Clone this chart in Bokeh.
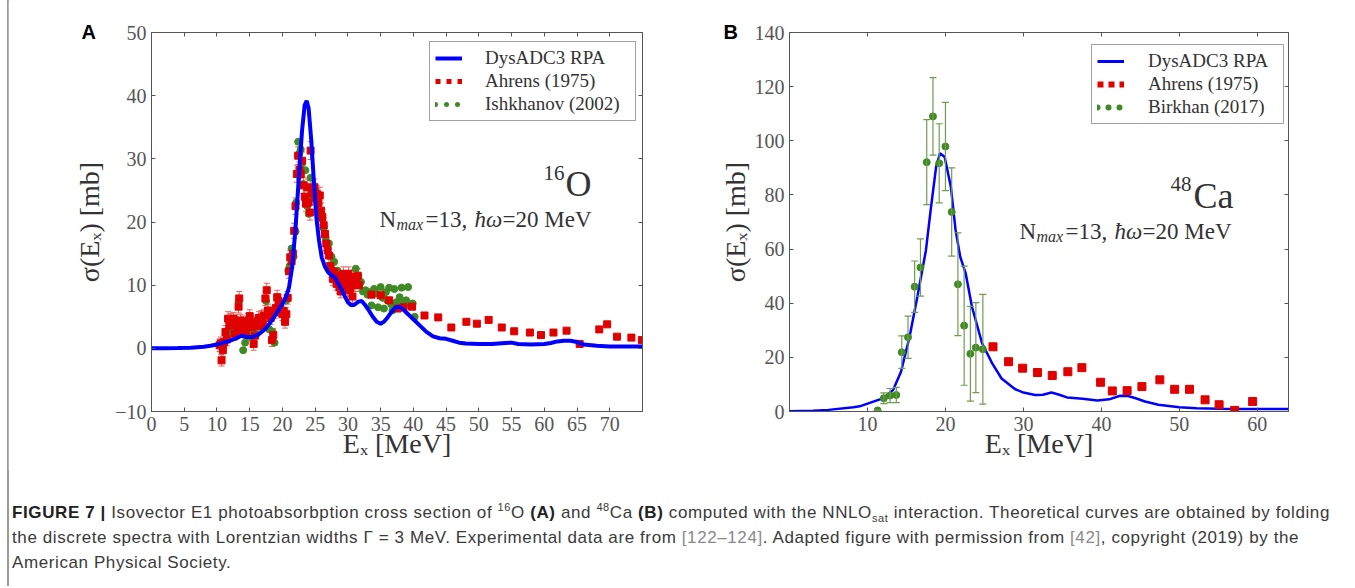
import numpy as np
from bokeh.plotting import figure
from bokeh.models import (ColumnDataSource, Range1d, LinearAxis, FixedTicker, Label, Title,
                          Legend, LegendItem, Whisker, TeeHead, Div, CustomJSTickFormatter)
from bokeh.layouts import row, column
from bokeh.embed import file_html
from bokeh.resources import INLINE

# ---------------- Panel A: 16O ----------------
o16_curve_e = [0, 2, 4, 6, 8, 9, 10, 11, 12, 13, 13.7, 14.5, 15.5, 16.5, 17.5, 18.5, 19.5,
               20.5, 21, 21.5, 22, 22.5, 23, 23.4, 23.7, 24.0, 24.4, 24.8, 25.2, 25.6, 26.0,
               26.5, 27, 27.5, 28, 28.5, 29, 29.5, 30, 30.5, 31, 31.6, 32.1, 32.6, 33.2, 33.8,
               34.4, 35.0, 35.5, 36.0, 36.6, 37.2, 37.8, 38.4, 39.0, 39.6, 40.2, 41, 42, 43,
               44, 45, 46, 47, 48, 50, 52, 54, 55, 56, 58, 60, 61, 62, 63, 64, 65, 66, 68,
               70, 72, 75]
o16_curve_s = [0, 0.02, 0.05, 0.1, 0.25, 0.4, 0.6, 0.9, 1.2, 1.6, 2.0, 1.8, 1.8, 2.3, 3.2,
               4.6, 6.2, 8.0, 9.6, 13.0, 19.0, 27.0, 34.5, 38.5, 39.2, 38.0, 33.0, 26.5, 20.5,
               17.0, 14.4, 12.9, 12.0, 11.6, 11.2, 10.3, 9.4, 8.3, 7.3, 6.8, 6.9, 7.4, 7.5,
               6.9, 6.0, 5.0, 4.2, 3.9, 4.2, 4.8, 5.7, 6.4, 6.6, 6.2, 5.6, 5.0, 4.4, 3.6, 2.6,
               1.9, 1.6, 1.5, 1.2, 0.9, 0.75, 0.7, 0.7, 0.85, 0.9, 0.7, 0.6, 0.7, 0.85, 1.1,
               1.2, 1.2, 1.0, 0.6, 0.4, 0.3, 0.3, 0.3]

o16_ahrens_e = [10.4, 10.6, 10.7, 10.9, 11.1, 11.3, 11.5, 11.7, 11.9, 12.1, 12.3, 12.5, 12.7,
                12.9, 13.1, 13.3, 13.4, 13.6, 13.8, 14.0, 14.2, 14.4, 14.6, 14.8, 15.0, 15.2,
                15.4, 15.6, 15.8, 16.0, 16.2, 16.4, 16.6, 16.8, 17.0, 17.2, 17.4, 17.6, 17.8,
                18.0, 18.2, 18.4, 18.6, 18.8, 19.0, 19.2, 19.4, 19.6, 19.8, 20.0, 20.2, 20.4,
                20.6, 20.8, 21.0, 21.2, 21.4, 21.6, 21.8, 22.0, 22.2, 22.4, 22.6, 22.8, 23.0,
                23.2, 23.4, 23.6, 23.8, 24.0, 24.2, 24.3, 24.5, 24.7, 24.9, 25.1, 25.3, 25.5,
                25.7, 25.9, 26.1, 26.3, 26.5, 26.7, 26.9, 27.1, 27.3, 27.5, 27.7, 27.9, 28.1,
                28.3, 28.5, 28.7, 28.9, 29.1, 29.3, 29.5, 29.7, 29.9, 30.1, 30.3, 30.5, 30.7,
                30.9, 31.1, 31.3, 31.5, 31.7, 33.6, 35.0, 36.3, 37.6, 38.5, 39.8,
                41.7, 43.8, 45.8, 48.1, 49.7, 51.5, 53.5, 55.4, 57.8, 59.5, 61.4, 63.4, 65.4,
                68.4, 69.6, 71.1, 73.3, 74.9]
o16_ahrens_s = [0.5, 0.8, -1.9, -0.3, 1.0, 2.6, 1.4, 4.7, 3.6, 4.5, 3.9, 4.7, 2.3,
                4.2, 3.3, 6.6, 7.9, 4.4, 2.8, 4.0, 3.1, 2.6, 3.7, 4.4, 5.1, 4.1,
                3.4, 0.7, 2.0, 3.9, 4.3, 4.8, 3.5, 4.9, 3.9, 5.2, 7.9, 9.2, 6.0,
                5.3, 4.8, 1.3, 2.1, 5.7, 6.4, 8.1, 7.5, 6.5, 6.0, 5.4, 5.9, 4.2,
                5.4, 8.0, 12.2, 14.4, 13.8, 15.0, 18.6, 22.5, 27.6, 30.5, 28.2, 27.6, 29.7,
                25.8, 24.0, 22.9, 25.5, 23.1, 21.5, 31.3, 24.5, 25.0, 25.5, 23.9, 24.4, 23.0,
                24.2, 21.8, 20.8, 19.5, 18.1, 16.6, 15.5, 14.7, 13.0, 12.3, 11.0, 12.1, 11.5,
                10.2, 11.3, 9.7, 9.0, 10.5, 11.8, 10.0, 10.8, 9.2, 11.8, 9.4, 10.5, 8.2,
                11.3, 10.0, 10.8, 11.5, 10.0, 8.5, 8.4, 7.6, 6.3, 6.5, 6.6,
                5.2, 4.9, 3.3, 4.2, 3.9, 4.5, 3.3, 2.7, 2.5, 2.1, 2.5, 2.8, 0.7,
                3.0, 3.8, 1.85, 1.7, 1.3]
o16_ahrens_err = [1.0, 1.0, 0.9, 1.0, 1.0, 1.0, 1.0, 1.1, 1.0, 1.0, 1.1, 1.0, 1.0,
                  1.1, 1.0, 1.0, 1.1, 1.0, 1.0, 1.1, 1.0, 1.0, 1.0, 1.1, 1.0, 1.0,
                  1.0, 1.0, 1.0, 1.1, 1.0, 1.0, 1.0, 1.1, 1.0, 1.0, 1.1, 1.1, 1.0,
                  1.0, 1.0, 1.0, 1.0, 1.0, 1.1, 1.1, 1.0, 1.0, 1.0, 1.0, 1.0, 1.0,
                  1.0, 1.0, 1.1, 1.1, 1.1, 1.1, 1.2, 1.3, 1.3, 1.4, 1.3, 1.3, 1.4,
                  1.3, 1.3, 1.2, 1.3, 1.2, 1.2, 1.4, 1.3, 1.3, 1.3, 1.2, 1.3, 1.2,
                  1.3, 1.2, 1.2, 1.2, 1.2, 1.1, 1.1, 1.1, 1.1, 1.1, 1.1, 1.1, 1.1,
                  1.0, 1.1, 1.0, 1.0, 1.1, 1.1, 1.0, 1.1, 1.0, 1.1, 1.0, 1.1, 1.0,
                  1.1, 1.0, 1.1, 1.1, 1.0, 0.3, 0.3, 0.3, 0.3, 0.3, 0.3,
                  0.2, 0.2, 0.2, 0.2, 0.2, 0.2, 0.2, 0.2, 0.2, 0.2, 0.2, 0.2, 0.2,
                  0.2, 0.2, 0.2, 0.2, 0.2]

o16_ishkhanov_e = [11.0, 11.5, 12.0, 12.5, 13.0, 13.3, 13.6, 14.0, 14.3, 14.7, 15.0, 15.5,
                   16.0, 16.5, 17.0, 17.5, 18.0, 18.5, 18.8, 19.2, 19.6, 20.0, 20.6, 20.9,
                   21.1, 21.4, 21.7, 22.0, 22.1, 22.4, 22.6, 22.8, 23.0, 23.2, 23.5, 23.5,
                   23.8, 24.0, 24.3, 24.6, 25.0, 25.3, 25.6, 26.0, 26.3, 26.6, 27.1, 27.5,
                   27.9, 28.4, 28.8, 29.2, 29.6, 30.0, 30.4, 30.8, 31.2, 31.6, 32.0, 32.3,
                   32.7, 33.0, 33.2, 33.6, 34.0, 34.3, 34.6, 35.0, 35.3, 35.5, 35.8, 36.0,
                   36.3, 36.6, 36.8, 37.1, 37.4, 37.7, 37.9, 38.2, 38.5, 38.9, 39.2, 39.5,
                   39.9, 40.2]
o16_ishkhanov_s = [0.5, 1.5, 2.5, 3.0, 4.5, 7.3, 3.5, -0.3, 0.9, 2.5, 1.8, 3.0,
                   2.2, 3.5, 4.8, 7.5, 3.0, 2.6, 0.9, 6.5, 7.0, 6.0, 7.6, 12.3,
                   13.0, 15.8, 14.5, 18.5, 23.1, 32.7, 30.9, 31.5, 29.3, 26.0, 28.2, 23.9,
                   22.5, 21.3, 27.0, 24.0, 25.0, 23.1, 21.0, 20.5, 19.0, 17.5, 16.6, 14.5,
                   13.7, 12.3, 11.0, 10.5, 11.2, 10.2, 9.5, 11.0, 12.6, 11.5, 10.5, 9.0,
                   9.2, 8.5, 8.9, 6.8, 9.4, 8.7, 6.5, 9.7, 8.0, 6.3, 8.9, 7.6,
                   9.6, 7.0, 6.0, 9.4, 7.3, 6.8, 8.1, 9.6, 7.1, 7.6, 9.7, 6.8,
                   7.1, 5.0]

# ---------------- Panel B: 48Ca ----------------
ca48_curve_e = [0, 3, 5, 8.2, 9.0, 10.2, 11.6, 12.5, 13.3, 14.3, 15.4, 16.4, 17.5, 18.1,
                18.8, 19.3, 19.9, 20.7, 21.3, 21.9, 22.6, 23.4, 24.7, 26.0, 27.2, 28.9,
                30.0, 31.5, 32.5, 33.6, 34.5, 35.6, 37.6, 39.5, 41.0, 42.4, 43.4, 44.4, 45.6,
                47.3, 50.0, 52.2, 55.0, 57.1, 60.0, 64.0]
ca48_curve_s = [0.1, 0.3, 0.6, 1.6, 1.9, 3.1, 4.5, 6.0, 8.0, 14.7, 27.6, 42.4, 59.6, 74.3,
                90.3, 95.4, 94.0, 82.9, 67.0, 57.1, 51.0, 38.7, 25.2, 17.8, 12.2, 8.3,
                7.0, 6.1, 6.2, 7.0, 6.3, 5.2, 4.7, 4.1, 4.5, 5.8, 5.7, 4.9, 3.7,
                2.5, 1.6, 1.2, 1.0, 0.9, 0.9, 0.9]

ca48_ahrens_e = [26.1, 28.1, 29.9, 31.8, 33.7, 35.7, 37.5, 39.9, 41.4, 43.3, 45.2, 47.5,
                 49.4, 51.3, 53.3, 55.1, 57.1, 59.4]
ca48_ahrens_s = [23.9, 18.4, 16.0, 14.4, 13.3, 14.7, 16.2, 10.8, 7.6, 7.7, 9.2, 11.7,
                 8.2, 8.2, 4.3, 2.5, 0.4, 3.7]

ca48_birkhan_e = [11.3, 12.1, 12.9, 13.7, 14.4, 15.2, 16.05, 16.8, 17.6, 18.4, 19.2, 20.0,
                  20.8, 21.6, 22.4, 23.2, 23.9, 24.8]
ca48_birkhan_s = [0.4, 4.9, 5.9, 6.1, 21.9, 27.4, 46.1, 53.2, 92.1, 109.0, 91.7, 97.9,
                  73.7, 47.0, 31.7, 21.3, 23.6, 23.0]
ca48_birkhan_err = [0.0, 2.0, 2.6, 2.8, 6.0, 7.8, 9.5, 10.6, 15.7, 14.3, 14.6, 16.3,
                    16.3, 19.0, 22.0, 17.5, 16.6, 20.3]

# tick labels
a_xticks = [0, 5, 10, 15, 20, 25, 30, 35, 40, 45, 50, 55, 60, 65, 70]
a_yticks = [-10, 0, 10, 20, 30, 40, 50]
b_xticks = [10, 20, 30, 40, 50, 60]
b_yticks = [0, 20, 40, 60, 80, 100, 120, 140]

BLUE = "#0000ff"
RED = "#e00000"
GREEN = "#3f8a22"
FRAME = "#555555"
TXT = "#333333"
SERIF = "Liberation Serif"
NAN = [float("nan")]


def make_fig(width, height, bl, br, bt, bb, xr, yr, xticks, yticks, xlabel, ylabel,
             ylabel_standoff=7, overrides=None):
    p = figure(width=width, height=height, x_range=Range1d(*xr), y_range=Range1d(*yr),
               output_backend="svg", toolbar_location=None, x_axis_type=None, y_axis_type=None,
               min_border_left=bl, min_border_right=br, min_border_top=bt, min_border_bottom=bb)
    p.title = None
    p.grid.visible = False
    p.outline_line_color = FRAME
    p.outline_line_width = 1
    p.background_fill_color = "white"
    p.border_fill_color = "white"
    for place, ticks, shown in (("below", xticks, True), ("left", yticks, True),
                                ("above", xticks, False), ("right", yticks, False)):
        ax = LinearAxis(ticker=FixedTicker(ticks=ticks, minor_ticks=[]))
        ax.axis_line_color = FRAME
        ax.major_tick_line_color = FRAME
        ax.major_tick_in = 4
        ax.major_tick_out = 0
        ax.minor_tick_line_color = None
        ax.major_label_text_font = SERIF
        if shown:
            ax.major_label_text_font_size = "20px"
            ax.major_label_text_color = "#555555"
            ax.major_label_standoff = 5
            ax.axis_label_text_font = SERIF
            ax.axis_label_text_font_size = "28px"
            ax.axis_label_text_font_style = "normal"
            ax.axis_label_text_color = TXT
            if place == "left":
                ax.axis_label = ylabel
                ax.axis_label_standoff = ylabel_standoff
                if overrides:
                    ax.major_label_overrides = overrides
            else:
                ax.axis_label = xlabel
                ax.axis_label_standoff = -6
        else:
            ax.major_label_text_font_size = "1px"
            ax.major_label_text_color = None
            ax.formatter = CustomJSTickFormatter(code="return ''")
            ax.major_label_standoff = 0
        p.add_layout(ax, place)
    return p


def px2data(fr, px, py):
    x = fr["x0"] + (px - fr["l"]) / (fr["r"] - fr["l"]) * (fr["x1"] - fr["x0"])
    y = fr["y1"] - (py - fr["t"]) / (fr["b"] - fr["t"]) * (fr["y1"] - fr["y0"])
    return x, y


def txt(p, fr, px, py, text, size, font=SERIF, style="normal", angle=0.0,
        align="left", baseline="alphabetic", color=TXT):
    x, y = px2data(fr, px, py)
    p.add_layout(Label(x=x, y=y, text=text, text_font=font, text_font_size=f"{size}px",
                       text_font_style=style, angle=angle, text_align=align,
                       text_baseline=baseline, text_color=color))


def panel_letter(p, letter, offset):
    p.add_layout(Title(text=letter, align="left", offset=offset, standoff=-20,
                       text_font="Liberation Sans", text_font_size="20px",
                       text_font_style="bold", text_color="#000000"), "above")


XLABEL = "E\u2093 [MeV]"
YLABEL = "\u03c3(E\u2093) [mb]"

# ---------- Figure A ----------
frA = dict(l=151, r=642, t=32, b=411, x0=0, x1=75, y0=-10, y1=50)
pA = make_fig(662, 470, 143, 28, 32, 59, (0, 75), (-10, 50), a_xticks, a_yticks,
              XLABEL, YLABEL, ylabel_standoff=7, overrides={-10: "\u221210"})

srcA_ahr = ColumnDataSource(dict(x=o16_ahrens_e, y=o16_ahrens_s,
                                 lo=[s - e for s, e in zip(o16_ahrens_s, o16_ahrens_err)],
                                 hi=[s + e for s, e in zip(o16_ahrens_s, o16_ahrens_err)]))
srcA_ish = ColumnDataSource(dict(x=o16_ishkhanov_e, y=o16_ishkhanov_s))
srcA_cur = ColumnDataSource(dict(x=o16_curve_e, y=o16_curve_s))

wA = Whisker(source=srcA_ahr, base="x", lower="lo", upper="hi", dimension="height",
             line_color="#e66060", line_width=1, level="underlay",
             upper_head=TeeHead(size=6, line_color="#e66060", line_width=1),
             lower_head=TeeHead(size=6, line_color="#e66060", line_width=1))
pA.add_layout(wA)
pA.scatter("x", "y", source=srcA_ish, marker="circle", size=7, fill_color=GREEN,
           line_color=GREEN)
pA.scatter("x", "y", source=srcA_ahr, marker="square", size=7, fill_color=RED,
           line_color=RED)
pA.line("x", "y", source=srcA_cur, line_color=BLUE, line_width=4)

# legend swatches (no data of their own: the legend draws them)
la1 = pA.line(NAN, NAN, line_color=BLUE, line_width=4)
la2 = pA.line(NAN, NAN, line_color=RED, line_width=5, line_dash="5 6", line_cap="butt")
la3 = pA.line(NAN, NAN, line_color=GREEN, line_width=5, line_dash="0 11", line_cap="round")
legA = Legend(items=[LegendItem(label="DysADC3 RPA", renderers=[la1]),
                     LegendItem(label="Ahrens (1975)", renderers=[la2]),
                     LegendItem(label="Ishkhanov (2002)", renderers=[la3])],
              location=(278, 290), label_text_font=SERIF, label_text_font_size="19px",
              label_text_color=TXT, glyph_width=27, glyph_height=18, label_height=18,
              label_width=145, label_standoff=23, spacing=1, padding=5,
              border_line_color="#444444", border_line_width=1,
              background_fill_color="white", background_fill_alpha=1, margin=0)
pA.add_layout(legA)

panel_letter(pA, "A", -70)
txt(pA, frA, 543, 172, "16", 21)
txt(pA, frA, 565, 183, "O", 36)
txt(pA, frA, 379, 219, "N", 23)
txt(pA, frA, 396, 224, "max", 16, style="italic")
txt(pA, frA, 425, 219, "=13,", 23)
txt(pA, frA, 474, 219, "\u0127\u03c9", 23, style="italic")
txt(pA, frA, 502, 219, "=20 MeV", 23)

# ---------- Figure B ----------
frB = dict(l=789, r=1288, t=32, b=414, x0=0, x1=64, y0=0, y1=140)
pB = make_fig(683, 470, 119, 65, 32, 56, (0, 64), (0, 140), b_xticks, b_yticks,
              XLABEL, YLABEL, ylabel_standoff=1)

srcB_cur = ColumnDataSource(dict(x=ca48_curve_e, y=ca48_curve_s))
srcB_ahr = ColumnDataSource(dict(x=ca48_ahrens_e, y=ca48_ahrens_s))
srcB_bir = ColumnDataSource(dict(x=ca48_birkhan_e, y=ca48_birkhan_s,
                                 lo=[s - e for s, e in zip(ca48_birkhan_s, ca48_birkhan_err)],
                                 hi=[s + e for s, e in zip(ca48_birkhan_s, ca48_birkhan_err)]))

pB.line("x", "y", source=srcB_cur, line_color=BLUE, line_width=2.5)
wB = Whisker(source=srcB_bir, base="x", lower="lo", upper="hi", dimension="height",
             line_color="#6f9c52", line_width=1.2, level="overlay",
             upper_head=TeeHead(size=7, line_color="#6f9c52", line_width=1.2),
             lower_head=TeeHead(size=7, line_color="#6f9c52", line_width=1.2))
pB.add_layout(wB)
pB.scatter("x", "y", source=srcB_ahr, marker="square", size=8, fill_color=RED, line_color=RED)
pB.scatter("x", "y", source=srcB_bir, marker="circle", size=7, fill_color=GREEN,
           line_color=GREEN)

lb1 = pB.line(NAN, NAN, line_color=BLUE, line_width=3)
lb2 = pB.line(NAN, NAN, line_color=RED, line_width=6, line_dash="6 5", line_cap="butt")
lb3 = pB.line(NAN, NAN, line_color=GREEN, line_width=6, line_dash="0 11", line_cap="round")
legB = Legend(items=[LegendItem(label="DysADC3 RPA", renderers=[lb1]),
                     LegendItem(label="Ahrens (1975)", renderers=[lb2]),
                     LegendItem(label="Birkhan (2017)", renderers=[lb3])],
              location=(302, 287), label_text_font=SERIF, label_text_font_size="19px",
              label_text_color=TXT, glyph_width=27, glyph_height=18, label_height=18,
              label_width=130, label_standoff=24, spacing=1, padding=5,
              border_line_color="#444444", border_line_width=1,
              background_fill_color="white", background_fill_alpha=1, margin=0)
pB.add_layout(legB)

panel_letter(pB, "B", -66)
txt(pB, frB, 1170, 185, "48", 21)
txt(pB, frB, 1193, 197, "Ca", 36)
txt(pB, frB, 1019, 233, "N", 23)
txt(pB, frB, 1036, 238, "max", 16, style="italic")
txt(pB, frB, 1065, 233, "=13,", 23)
txt(pB, frB, 1114, 233, "\u0127\u03c9", 23, style="italic")
txt(pB, frB, 1142, 233, "=20 MeV", 23)

# ---------- left rule + caption ----------
rule = Div(text="<div style='margin-left:7px;width:2px;height:470px;background:#9a9a9a'></div>",
           width=8, height=470, margin=0)

SUP = "font-size:11px;line-height:0;vertical-align:super"
SUB = "font-size:11px;line-height:0;vertical-align:sub"
caption_html = (
    "<div style=\"margin-left:7px;border-left:2px solid #9a9a9a;height:116px;"
    "box-sizing:border-box;font-family:'Liberation Sans',Arial,sans-serif;font-size:17px;"
    "letter-spacing:0.6px;line-height:25px;color:#3a3a3a;padding:30px 0 0 3px;"
    "white-space:nowrap;\">"
    "<b style='color:#222'>FIGURE 7 |</b> Isovector E1 photoabsorbption cross section of "
    f"<sup style='{SUP}'>16</sup>O <b style='color:#222'>(A)</b> and "
    f"<sup style='{SUP}'>48</sup>Ca <b style='color:#222'>(B)</b> computed with the "
    f"NNLO<sub style='{SUB}'>sat</sub> interaction. Theoretical curves are obtained "
    "by folding<br>the discrete spectra with Lorentzian widths \u0393 = 3 MeV. Experimental "
    "data are from <span style='color:#8a8a8a'>[122\u2013124]</span>. Adapted figure with "
    "permission from <span style='color:#8a8a8a'>[42]</span>, copyright (2019) by the<br>"
    "American Physical Society.</div>"
)
cap = Div(text=caption_html, width=1353, height=116, margin=0)

layout = column(row(rule, pA, pB, spacing=0), cap, spacing=0)
open("out.html", "w").write(file_html(layout, INLINE))
